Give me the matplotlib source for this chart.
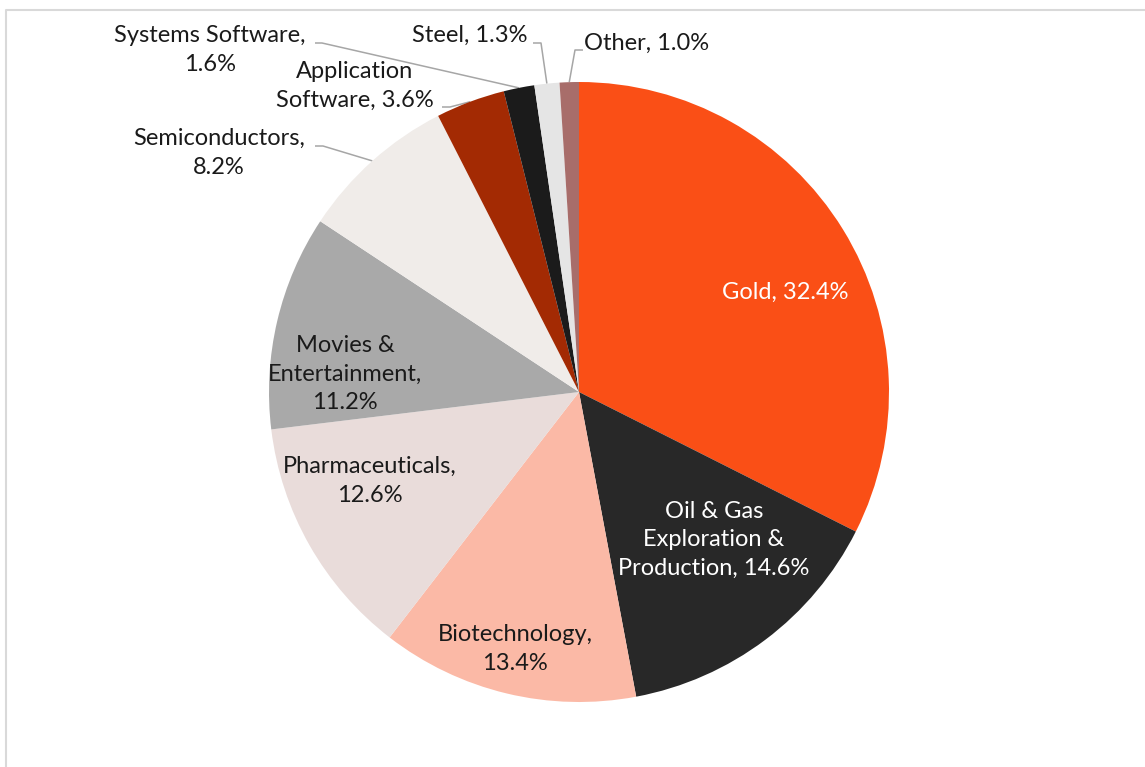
import matplotlib.pyplot as plt
import numpy as np

plt.rcParams['font.family'] = ['Lato', 'DejaVu Sans']

# Data
labels = ['Gold', 'Oil & Gas\nExploration &\nProduction', 'Biotechnology', 'Pharmaceuticals',
          'Movies &\nEntertainment', 'Semiconductors', 'Application\nSoftware',
          'Systems Software', 'Steel', 'Other']
values = [32.4, 14.6, 13.4, 12.6, 11.2, 8.2, 3.6, 1.6, 1.3, 1.0]
colors = ['#FA4F16', '#282828', '#FBB9A6', '#E9DCDA', '#A9A9A9', '#F0ECE9',
          '#A32A03', '#1B1B1B', '#E5E5E5', '#A86D6A']

W, H = 1145, 767
cx, cy, R = 579, 392, 310

fig = plt.figure(figsize=(W / 100, H / 100), dpi=100)
ax = fig.add_axes([0, 0, 1, 1])

def Y(y):
    return H - y

wedges, _ = ax.pie(values, colors=colors, startangle=90, counterclock=False,
                   radius=R, center=(cx, Y(cy)), frame=True,
                   wedgeprops=dict(linewidth=0))
ax.set_xlim(0, W)
ax.set_ylim(0, H)
ax.set_aspect('equal')
ax.axis('off')

# label text, centre position (px), text colour
texts = [
    ('Gold, 32.4%', 785, 292, 'white'),
    ('Oil & Gas\nExploration &\nProduction, 14.6%', 714, 540, 'white'),
    ('Biotechnology,\n13.4%', 515, 649, '#1a1a1a'),
    ('Pharmaceuticals,\n12.6%', 370, 481, '#1a1a1a'),
    ('Movies &\nEntertainment,\n11.2%', 345, 374, '#1a1a1a'),
    ('Semiconductors,\n8.2%', 219, 153, '#1a1a1a'),
    ('Application\nSoftware, 3.6%', 355, 86, '#1a1a1a'),
    ('Systems Software,\n1.6%', 210, 50, '#1a1a1a'),
    ('Steel, 1.3%', 470, 35, '#1a1a1a'),
    ('Other, 1.0%', 647, 43, '#1a1a1a'),
]
for t, x, y, c in texts:
    ax.text(x, Y(y), t, ha='center', va='center', fontsize=17, color=c,
            linespacing=1.45)

# leader lines: (wedge index, start point, elbow point)
leaders = [
    (5, (315, 146), (323, 146)),
    (6, (442, 107), (450, 107)),
    (7, (315, 43), (322, 43)),
    (8, (533, 43), (541, 43)),
    (9, (583, 50), (575, 50)),
]
for i, p0, p1 in leaders:
    w = wedges[i]
    ang = np.deg2rad((w.theta1 + w.theta2) / 2)
    ex = cx + R * np.cos(ang)
    ey = Y(cy) + R * np.sin(ang)
    ax.plot([p0[0], p1[0], ex], [Y(p0[1]), Y(p1[1]), ey], color='#A6A6A6',
            lw=1.1, zorder=0.5, solid_capstyle='butt')

# frame border (partly cropped)
ax.plot([6, 6, W + 5], [-5, Y(10), Y(10)], color='#D9D9D9', lw=1.5,
        clip_on=False)

fig.savefig('out.png', dpi=100)
